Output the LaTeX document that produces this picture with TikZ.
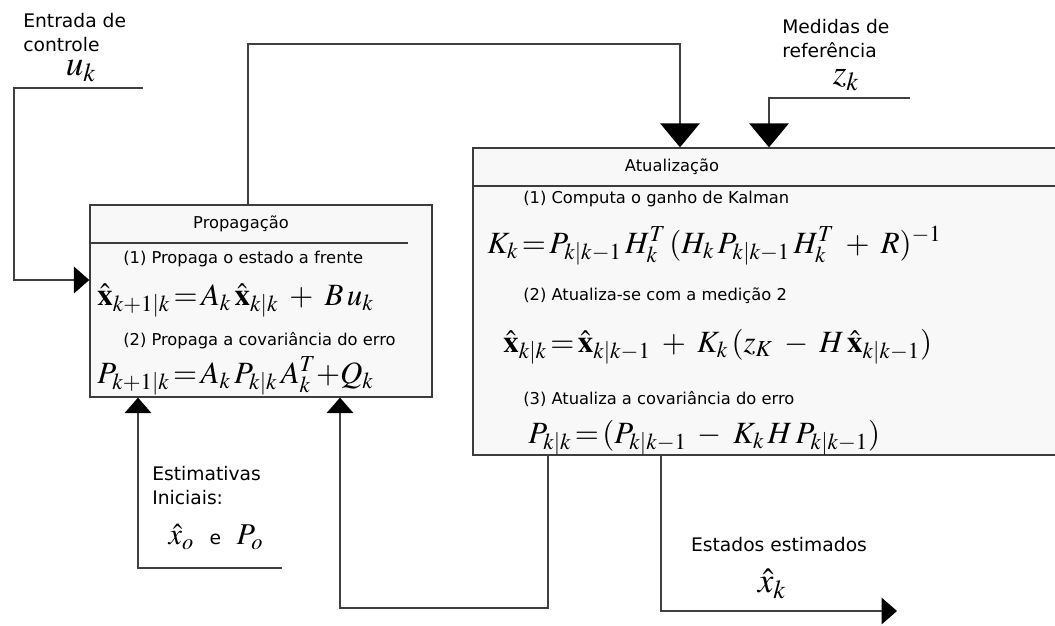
\documentclass[tikz,border=0pt]{standalone}
\usepackage{mathptmx}
\usepackage{fontspec}
\setmainfont{DejaVu Sans}
\usetikzlibrary{arrows.meta, positioning, calc}
\definecolor{boxfill}{RGB}{248, 248, 248}
\definecolor{boxline}{RGB}{60, 60, 60}
\newcommand{\eqsign}{\mathrel{\mkern-2mu=\mkern-2mu}}

\begin{document}
\begin{tikzpicture}[
    x=0.025cm, y=-0.025cm,
    block/.style={draw=boxline, fill=boxfill, line width=0.9pt, inner sep=0pt},
    lbl/.style={inner sep=0pt, align=left, font=\fontsize{13.3}{16.8}\selectfont},
    txt/.style={inner sep=0pt, font=\fontsize{11.6}{14}\selectfont},
    eq/.style={inner sep=0pt, font=\fontsize{22}{25}\selectfont},
    bigeq/.style={inner sep=0pt, font=\fontsize{25}{28}\selectfont},
    wire/.style={line width=0.9pt, draw=black!75},
    arr/.style={wire, -{Triangle[length=11pt, width=19pt, black]}},
    bigarr/.style={wire, -{Triangle[length=17pt, width=28pt, black]}}
]
    \useasboundingbox (0,0) rectangle (1055,626);

    % blocos
    \node[block, minimum width=8.55cm, minimum height=4.8cm] (prop) at (261,301) {};
    \node[block, minimum width=14.7cm, minimum height=7.675cm] (atual) at (767,301.5) {};
    \draw[boxline, line width=0.9pt] (prop.west |- 0,243) -- (408,243);
    \draw[boxline, line width=0.9pt] (atual.west |- 0,186) -- (atual.east |- 0,186);

    % propagacao
    \node[txt] (proptit) at (241,224) {Propagação};
    \node[txt, anchor=base west] (prop1) at (123,263) {(1) Propaga o estado a frente};
    \node[eq, anchor=base west] (propeq1) at (97,305)
        {$\hat{\mathbf{x}}_{k+1|k}\eqsign A_k\,\hat{\mathbf{x}}_{k|k}\;+\;B\,u_k$};
    \node[txt, anchor=base west] (prop2) at (123,345) {(2) Propaga a covariância do erro};
    \node[eq, anchor=base west] (propeq2) at (97,383)
        {$P_{k+1|k}\eqsign A_k\,P_{k|k}\,A_k^T{+}Q_k$};

    % atualizacao
    \node[txt] (atualtit) at (672,167) {Atualização};
    \node[txt, anchor=base west] (atual1) at (523,203) {(1) Computa o ganho de Kalman};
    \node[eq, anchor=base west] (atualeq1) at (487,253)
        {$K_k\eqsign P_{k|k-1}\,H_k^T\,(H_k\,P_{k|k-1}\,H_k^T\;+\;R)^{-1}$};
    \node[txt, anchor=base west] (atual2) at (523,300) {(2) Atualiza-se com a medição 2};
    \node[eq, anchor=base west] (atualeq2) at (503,352)
        {$\hat{\mathbf{x}}_{k|k}\eqsign\hat{\mathbf{x}}_{k|k-1}\;+\;K_k\,(z_K\;-\;H\,\hat{\mathbf{x}}_{k|k-1})$};
    \node[txt, anchor=base west] (atual3) at (523,404) {(3) Atualiza a covariância do erro};
    \node[eq, anchor=base west] (atualeq3) at (528,443)
        {$P_{k|k}\eqsign(P_{k|k-1}\;-\;K_k\,H\,P_{k|k-1})$};

    % entradas e saidas
    \node[lbl, anchor=north west] (entrada) at (23,13) {Entrada de\\controle};
    \node[bigeq] (uk) at (81,71) {$u_k$};
    \node[lbl, anchor=north west] (medidas) at (782,19) {Medidas de\\referência};
    \node[bigeq] (zk) at (846,80) {$z_k$};
    \node[lbl, anchor=north west] (estim) at (152,466) {Estimativas\\Iniciais:};
    \node[eq, font=\fontsize{21.5}{24}\selectfont] (x0) at (216,537)
        {$\hat{x}_o$ {\fontsize{13.3}{14}\selectfont\ e\ } $P_o$};
    \node[lbl] (estados) at (779,545) {Estados estimados};
    \node[bigeq] (xk) at (772,584) {$\hat{x}_k$};

    \coordinate (uin) at (143,88);
    \coordinate (ubend) at (14,280);
    \coordinate (fbtop) at (248,44);
    \coordinate (fbright) at (680,44);
    \coordinate (zin) at (910,98);
    \coordinate (zbend) at (769,98);
    \coordinate (x0in) at (282,568);
    \coordinate (x0bend) at (138,568);
    \coordinate (fbbot) at (548,608);
    \coordinate (fbleft) at (340,608);
    \coordinate (outbend) at (661,611);
    \coordinate (xout) at (897,611);

    % ligacoes
    \draw[arr] (uin) -| (ubend) -- (prop.west |- ubend);
    \draw[bigarr] (prop.north -| fbtop) -- (fbtop) -- (fbright) -- (atual.north -| fbright);
    \draw[bigarr] (zin) -- (zbend) -- (atual.north -| zbend);
    \draw[arr] (x0in) -- (x0bend) -- (prop.south -| x0bend);
    \draw[arr] (atual.south -| fbbot) -- (fbbot) -- (fbleft) -- (prop.south -| fbleft);
    \draw[arr] (atual.south -| outbend) -- (outbend) -- (xout);
\end{tikzpicture}
\end{document}
